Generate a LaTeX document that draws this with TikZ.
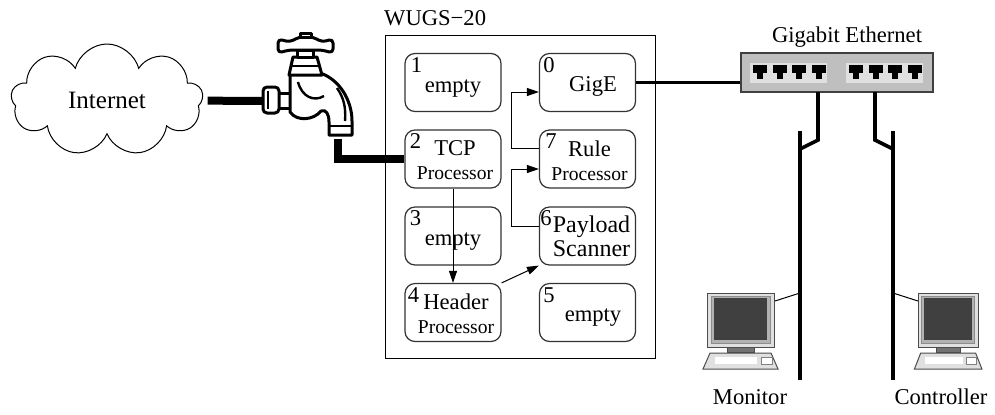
\documentclass[tikz,border=0pt]{standalone}
\usepackage{fontspec}
\setmainfont{Liberation Serif}
\usetikzlibrary{shapes.symbols, arrows.meta, calc, positioning}

\newcommand{\labfont}{\fontsize{11.3}{12}\selectfont}
\newcommand{\procfont}{\fontsize{9.8}{11}\selectfont}
\newcommand{\bigfont}{\fontsize{12}{10.5}\selectfont}

\tikzset{
  module/.style={draw=black!80, line width=0.6pt, rounded corners=5pt,
    minimum width=48pt, minimum height=29pt, inner sep=0pt},
  modnum/.style={inner sep=0pt, font=\labfont},
  modtext/.style={inner sep=0pt, align=center, font=\labfont},
  pipe/.style={line width=4pt},
  cable/.style={line width=1.8pt},
  faucet/.style={draw, line width=1.5pt, fill=white, line join=round},
  pc/.pic={
    % monitor case, bevel and screen
    \draw[black!70, line width=0.5pt, fill=black!12] (0,0) rectangle (67,54);
    \draw[black!45, line width=0.5pt, fill=black!30] (4,3) rectangle (63,50);
    \fill[black!75] (7,5) rectangle (60,47);
    % stand
    \draw[black!70, line width=0.5pt, fill=black!55] (20,54) rectangle (47,59);
    % keyboard
    \draw[black!70, line width=0.5pt, fill=black!12]
      (3,60) -- (64,60) -- (71,76) -- (-4,76) -- cycle;
    \fill[white] (8,64) rectangle (50,71);
    \draw[black!50, line width=0.4pt, fill=white] (54,64) rectangle (65,71);
  }
}

\begin{document}
\begin{tikzpicture}[x=0.5pt, y=-0.5pt, line width=0.5pt,
    >={Triangle[length=6pt,width=4pt]}]
  \useasboundingbox (0,0) rectangle (995,414);

  % internet cloud
  \node[cloud, draw, cloud puffs=9, cloud ignores aspect, minimum width=96pt,
    minimum height=56pt, font=\fontsize{12.5}{14}\selectfont] (inet) at (107,100) {Internet};

  % tap
  \coordinate (tapin) at (263,101);
  \coordinate (tapout) at (338,139);
  \draw[faucet] (276,93) rectangle (297,108);
  \draw[faucet, rounded corners=2pt] (263,87) rectangle (279,113);
  \draw[line width=1.2pt] (268,91) -- (268,109);
  \draw[faucet] (290,74) -- (320,73)
    .. controls (339,79) and (352,100) .. (352,121)
    -- (352,135) -- (329,135) -- (329,122)
    .. controls (329,114) and (326,109) .. (321,111)
    .. controls (314,120) and (297,122) .. (290,112)
    -- cycle;
  \draw[line width=1.2pt] (329,126) -- (352,126);
  \draw[line width=1.2pt] (298,82) .. controls (302,97) and (314,102) .. (324,96);
  \draw[line width=1.2pt] (337,88) .. controls (344,98) and (346,108) .. (345,121);
  \draw[faucet] (293,57) -- (317,57) -- (322,75) -- (289,75) -- cycle;
  \draw[line width=1.2pt] (292,66) -- (319,66);
  \draw[faucet] (297,50) rectangle (313,57);
  \draw[faucet, rounded corners=2pt] (278,39) -- (290,42) -- (299,37) -- (313,37)
    -- (322,42) -- (333,39) -- (333,53) -- (322,50) -- (289,50) -- (278,53) -- cycle;
  \draw[faucet] (300,33) rectangle (311,37);

  % the switch chassis
  \node[draw, minimum width=135pt, minimum height=161.5pt] (wugs) at (520,196.5) {};
  \node[font=\labfont, anchor=base west] (wugslab) at (377,25) {WUGS−20};

  \foreach \n/\x/\y/\nx/\dx/\dy/\txt in {
      1/453/82.5/12/0/6.5/{empty},
      0/587.5/82.5/10/5.5/3.5/{GigE},
      2/453/159/11/2/1/{TCP\\\procfont Processor},
      7/587.5/159/12/2/2/{Rule\\\procfont Processor},
      3/453/236/11/0/5.5/{empty},
      6/587.5/236/7/4/0/{\bigfont Payload\\\bigfont Scanner},
      4/453/312.5/9/3/1/{Header\\\procfont Processor},
      5/587.5/312.5/10/5.5/5.5/{empty}} {
    \node[module] (m\n) at (\x,\y) {};
    \node[modnum] (n\n) at ($(m\n.north west)+(\nx,12)$) {\n};
    \node[modtext] (t\n) at ($(m\n.center)+(\dx,\dy)$) {\txt};
  }

  % data path inside the chassis
  \draw[->] (m2) -- (m4);
  \draw[->] (m4.north east) -- (m6.south west);
  \draw[->] ([yshift=5pt]m6.west) -- ++(-27,0) |- ([yshift=-5pt]m7.west);
  \draw[->] ([yshift=5.5pt]m7.west) -- ++(-27,0) |- ([yshift=-4.75pt]m0.west);

  % uplink pipes
  \draw[pipe, shorten <=2.5pt] (inet) -- (tapin);
  \draw[pipe] (tapout) |- (m2);

  % ethernet switch
  \node[draw=black!75, fill=black!25, line width=0.6pt, minimum width=96pt,
    minimum height=19.5pt, inner sep=0pt] (gbe) at (837,72.5) {};
  \node[font=\labfont] (gbelab) at (847,37) {Gigabit Ethernet};
  \fill[black!12] (750,63) rectangle (827,83);
  \fill[black!12] (846,63) rectangle (923,83);
  \foreach \px in {753,772.5,792,811.5,849,868.5,888,907.5} {
    \fill ({\px},65) rectangle ++(14,8);
    \fill ({\px+4},73) rectangle ++(6,6);
  }
  \draw[line width=1.25pt] (m0.east) -- (m0.east -| gbe.west);

  % drops to the hosts
  \coordinate (lport) at (818,92);
  \coordinate (rport) at (875,92);
  \coordinate (ltop) at (800,131);
  \coordinate (lbot) at (800,380);
  \coordinate (rtop) at (893,131);
  \coordinate (rbot) at (893,380);
  \draw[cable] (lport) -- ++(0,48) -- (800,149);
  \draw[cable] (ltop) -- (lbot);
  \draw[cable] (rport) -- ++(0,48) -- (893,149);
  \draw[cable] (rtop) -- (rbot);

  % hosts
  \pic (mon) at (707,293) {pc};
  \pic[xscale=0.9] (ctl) at (918,293) {pc};
  \draw (775,301) -- (800,293);
  \draw (893,293) -- (918,301);
  \node[font=\labfont] (monlab) at (750,397) {Monitor};
  \node[font=\labfont] (ctllab) at (941,397) {Controller};
\end{tikzpicture}
\end{document}
